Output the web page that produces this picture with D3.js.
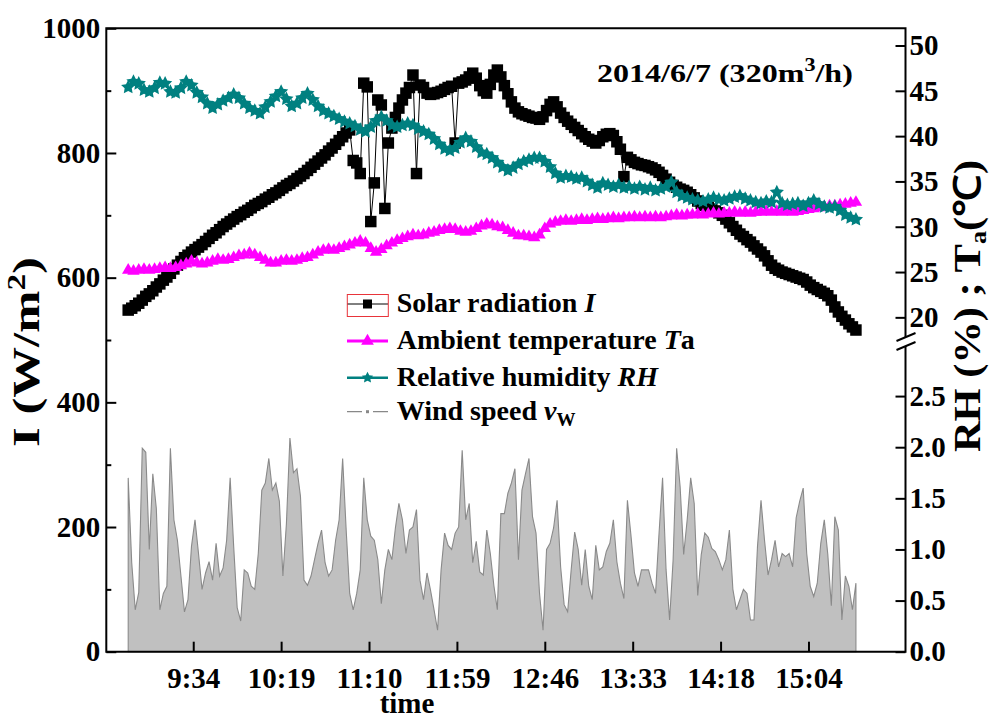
<!DOCTYPE html>
<html>
<head>
<meta charset="utf-8">
<script src="https://cdn.jsdelivr.net/npm/d3@7"></script>
<style>
  body { margin: 0; background: #fff; }
  svg text { font-family: "Liberation Serif", "Times New Roman", serif; font-weight: bold; fill: #000; }
</style>
</head>
<body>
<svg id="chart" width="993" height="720"></svg>
<script>
// Solar radiation I (W/m2), one sample every 2 records
const solarRadiation = [
  548,551,555,559,564,570,574,579,585,590,
  596,601,607,614,620,626,632,636,641,645,
  649,653,658,663,668,672,677,682,686,690,
  694,698,701,705,708,712,716,719,722,726,
  729,733,736,740,744,748,751,755,759,763,
  767,772,777,782,787,792,797,803,808,814,
  820,826,832,837,788,784,767,912,906,690,
  752,885,877,711,816,840,857,872,885,896,
  905,925,767,909,905,896,894,895,897,899,
  902,905,907,816,912,914,917,922,928,920,
  908,900,896,910,925,933,922,908,895,882,
  872,866,863,861,859,857,856,854,858,868,
  878,882,874,864,857,851,846,841,836,831,
  826,822,819,816,820,826,830,831,828,818,
  806,762,793,789,785,783,781,780,778,776,
  773,769,764,758,753,748,745,742,740,737,
  733,728,723,719,716,713,710,707,704,700,
  694,688,682,676,670,666,661,657,651,646,
  641,635,627,620,615,612,609,607,605,603,
  601,599,597,593,588,584,581,578,575,571,
  564,553,545,538,532,526,521,516
];
// Ambient temperature Ta (°C), one sample every 3 records
const ambientTemp = [
  25.2,25.1,25.2,25.3,25.2,25.3,25.4,25.5,25.4,25.5,
  25.7,25.9,26.2,26.0,25.9,26.0,26.2,26.4,26.3,26.4,
  26.6,26.8,26.9,27.1,26.9,26.6,26.3,26.0,26.0,26.2,
  26.3,26.2,26.3,26.5,26.6,26.9,27.2,27.4,27.5,27.4,
  27.6,27.8,28.0,28.2,28.4,28.2,27.6,27.2,27.5,27.9,
  28.2,28.5,28.7,28.9,29.1,29.0,29.1,29.3,29.4,29.6,
  29.7,29.8,29.7,29.5,29.4,29.5,29.8,30.1,30.3,30.2,
  30.0,29.9,29.6,29.3,29.0,29.0,28.9,28.8,29.1,29.8,
  30.3,30.5,30.6,30.7,30.6,30.7,30.8,30.7,30.8,30.9,
  30.8,30.9,31.0,30.9,31.0,31.0,31.1,31.0,31.1,31.0,
  31.1,31.0,31.1,31.2,31.3,31.2,31.3,31.3,31.4,31.3,
  31.4,31.5,31.4,31.5,31.5,31.6,31.5,31.6,31.5,31.6,
  31.6,31.7,31.6,31.7,31.6,31.7,31.6,31.7,31.8,31.9,
  32.0,32.1,32.2,32.3,32.3,32.4,32.5,32.6,32.7
];
// Relative humidity RH (%), one sample every 3 records
const relHumidity = [
  45.4,46.0,45.8,45.1,44.9,45.3,45.9,45.8,44.9,44.8,
  45.3,46.0,45.6,44.8,44.3,43.6,43.1,43.5,43.9,44.2,
  44.6,44.2,43.6,43.1,42.8,42.5,43.2,43.8,44.4,44.9,
  44.1,43.3,43.6,44.2,44.7,44.0,43.3,42.8,42.5,42.2,
  41.9,41.6,41.4,41.1,40.7,40.5,41.0,41.7,42.1,41.7,
  41.2,41.0,41.2,41.4,41.2,40.8,40.5,40.2,39.7,39.1,
  38.6,38.4,38.7,39.3,39.8,39.4,38.8,38.2,38.0,37.6,
  37.1,36.6,36.2,36.5,36.9,37.2,37.4,37.6,37.6,37.2,
  36.6,35.9,35.4,35.6,35.5,35.3,35.4,35.0,34.6,34.3,
  34.8,34.6,34.4,34.6,34.3,34.4,34.2,34.4,34.1,34.3,
  34.0,34.2,34.4,34.9,33.8,33.4,33.2,33.0,32.9,32.8,
  33.0,33.2,33.0,32.9,33.1,33.3,33.4,33.1,32.9,32.7,
  32.6,32.8,32.7,33.8,32.6,32.4,32.5,32.6,32.3,32.6,
  32.9,32.5,32.2,32.1,32.2,31.8,31.3,31.0,30.8
];
// Wind speed vw (m/s), one sample every 2 records
const windSpeed = [
  1.70,0.87,0.41,0.58,1.99,1.95,1.00,1.74,1.40,0.41,
  0.57,0.64,1.99,1.29,1.09,0.74,0.39,0.51,1.03,1.29,
  0.96,0.61,0.77,0.88,0.70,1.06,0.74,0.82,1.09,1.70,
  1.03,0.43,0.30,0.80,0.77,0.64,0.61,0.96,1.58,1.65,
  1.89,1.58,1.65,1.47,0.74,1.25,2.09,1.75,1.79,1.52,
  0.70,0.65,0.74,0.90,1.06,1.19,0.87,0.74,0.80,1.09,
  1.29,1.89,1.19,0.57,0.41,0.57,0.80,1.70,1.29,1.13,
  1.09,0.90,0.47,0.80,1.00,0.90,1.21,1.45,1.29,0.96,
  1.19,1.22,1.39,0.70,0.51,0.77,0.60,0.41,0.21,0.80,
  1.16,1.04,1.00,1.16,1.22,1.97,1.29,1.45,0.87,1.08,
  0.78,0.75,1.19,0.96,0.65,0.41,1.35,1.35,1.55,1.65,
  1.79,0.90,1.58,1.74,1.89,1.32,1.16,0.57,0.21,1.00,
  1.06,1.21,1.48,0.83,0.46,0.39,0.80,1.17,1.00,0.65,
  1.00,0.64,0.51,1.04,0.80,0.83,0.98,1.06,1.29,0.88,
  0.67,0.52,1.48,1.14,0.77,0.64,0.80,0.80,0.80,0.67,
  0.57,1.16,1.70,0.80,0.31,0.90,1.99,1.61,0.95,1.29,
  1.70,1.45,0.55,0.95,1.16,1.12,1.01,0.98,0.90,0.80,
  0.90,1.19,0.61,0.41,0.51,0.61,0.57,0.31,0.31,1.03,
  1.48,1.09,0.75,0.90,1.09,0.83,0.96,0.93,0.96,0.83,
  1.31,1.47,1.60,0.96,0.64,0.54,0.67,1.06,1.29,0.95,
  0.45,1.32,1.19,0.31,0.74,0.64,0.41,0.67
];
const solarStep = 2, tempStep = 3, humidStep = 3, windStep = 2;

// Time axis: record numbers and their clock labels
const timeTickRecords = [37, 87, 137, 187, 237, 287, 337, 387];
const timeTickLabels = ["9:34", "10:19", "11:10", "11:59", "12:46", "13:33", "14:18", "15:04"];
const leftTicks = [0, 200, 400, 600, 800, 1000];
const leftMinorTicks = [100, 300, 500, 700, 900];
const upperRightTicks = [20, 25, 30, 35, 40, 45, 50];
const lowerRightTicks = [0, 0.5, 1.0, 1.5, 2.0, 2.5];

const svg = d3.select("#chart");
const L = 106.3, R = 905.5, T = 28.3, B = 651.7;
const breakUpper = 337, breakLower = 346;

const x = d3.scaleLinear().domain([-12.46, 442.2]).range([L, R]);
const yI = d3.scaleLinear().domain([0, 1000]).range([B, T]);
const yUp = d3.scaleLinear().domain([17.5, 51.9]).range([340, T]);
const yW = d3.scaleLinear().domain([0, 2.98]).range([B, 347]);

// Five-pointed star with a fairly fat body
const fatStar = {
  draw(ctx, size) {
    const ro = Math.sqrt(size), ri = ro * 0.5;
    for (let k = 0; k < 10; k++) {
      const r = k % 2 ? ri : ro;
      const a = -Math.PI / 2 + k * Math.PI / 5;
      k ? ctx.lineTo(r * Math.cos(a), r * Math.sin(a)) : ctx.moveTo(r * Math.cos(a), r * Math.sin(a));
    }
    ctx.closePath();
  }
};

const plot = svg.append("g");

// Wind speed: grey filled profile
plot.append("path")
  .datum(windSpeed)
  .attr("d", d3.area().x((d, i) => x(i * windStep)).y0(yW(0)).y1(d => yW(d)))
  .attr("fill", "#c0c0c0")
  .attr("stroke", "#8a8a8a")
  .attr("stroke-width", 1.1);

// Solar radiation: black line with square markers
plot.append("path")
  .datum(solarRadiation)
  .attr("d", d3.line().x((d, i) => x(i * solarStep)).y(d => yI(d)))
  .attr("fill", "none").attr("stroke", "#000").attr("stroke-width", 1);
plot.append("g").selectAll("path").data(solarRadiation).join("path")
  .attr("transform", (d, i) => `translate(${x(i * solarStep)},${yI(d)})`)
  .attr("d", d3.symbol(d3.symbolSquare, 132))
  .attr("fill", "#000");

// Ambient temperature: magenta line with triangles
plot.append("path")
  .datum(ambientTemp)
  .attr("d", d3.line().x((d, i) => x(i * tempStep)).y(d => yUp(d)))
  .attr("fill", "none").attr("stroke", "#ff00ff").attr("stroke-width", 3);
plot.append("g").selectAll("path").data(ambientTemp).join("path")
  .attr("transform", (d, i) => `translate(${x(i * tempStep)},${yUp(d)})`)
  .attr("d", d3.symbol(d3.symbolTriangle, 66))
  .attr("fill", "#ff00ff");

// Relative humidity: teal line with stars
plot.append("path")
  .datum(relHumidity)
  .attr("d", d3.line().x((d, i) => x(i * humidStep)).y(d => yUp(d)))
  .attr("fill", "none").attr("stroke", "#008080").attr("stroke-width", 2.5);
plot.append("g").selectAll("path").data(relHumidity).join("path")
  .attr("transform", (d, i) => `translate(${x(i * humidStep)},${yUp(d)})`)
  .attr("d", d3.symbol(fatStar, 56))
  .attr("fill", "#008080");

// Axes
const tickFont = 29;
function styleAxis(g) {
  g.select(".domain").remove();
  g.selectAll(".tick line").attr("stroke", "#000").attr("stroke-width", 2);
  g.selectAll(".tick text").style("font-size", tickFont + "px").attr("fill", "#000");
}
svg.append("g").attr("transform", `translate(${L},0)`)
  .call(d3.axisLeft(yI).tickValues(leftTicks).tickSize(-10).tickPadding(6).tickFormat(d3.format("d")))
  .call(styleAxis);
svg.append("g").attr("transform", `translate(${L},0)`)
  .call(d3.axisLeft(yI).tickValues(leftMinorTicks).tickSize(-5).tickFormat(""))
  .call(styleAxis);
svg.append("g").attr("transform", `translate(0,${B})`)
  .call(d3.axisBottom(x).tickValues(timeTickRecords).tickSize(-10).tickPadding(16)
    .tickFormat((d, i) => timeTickLabels[i]))
  .call(styleAxis);
svg.append("g").attr("transform", `translate(${R},0)`)
  .call(d3.axisRight(yUp).tickValues(upperRightTicks).tickSize(-10).tickPadding(4).tickFormat(d3.format("d")))
  .call(styleAxis);
svg.append("g").attr("transform", `translate(${R},0)`)
  .call(d3.axisRight(yW).tickValues(lowerRightTicks).tickSize(-10).tickPadding(4).tickFormat(d3.format(".1f")))
  .call(styleAxis);

// Frame with a break on the right axis
const frame = svg.append("g").attr("stroke", "#000").attr("stroke-width", 2).attr("fill", "none");
frame.append("path").attr("d", `M${R},${breakUpper}V${T}H${L}V${B}H${R}V${breakLower}`);
frame.append("line").attr("x1", R - 9).attr("y1", breakUpper + 4).attr("x2", R + 10).attr("y2", breakUpper - 4);
frame.append("line").attr("x1", R - 9).attr("y1", breakLower + 4).attr("x2", R + 10).attr("y2", breakLower - 4);

// Stretch a text along its baseline to a given run length
function fitRun(sel, cx, cy, angle, run) {
  const w = sel.node().getBBox().width;
  const s = run / w;
  sel.attr("transform", `translate(${cx},${cy}) rotate(${angle}) scale(${s},1)`);
}

// Axis titles
svg.append("text").attr("x", 407).attr("y", 713).attr("text-anchor", "middle")
  .style("font-size", "29px").text("time");

const leftTitle = svg.append("text").attr("text-anchor", "middle").style("font-size", "38px");
leftTitle.append("tspan").text("I (W/m");
leftTitle.append("tspan").attr("dy", -14).style("font-size", "25px").text("2");
leftTitle.append("tspan").attr("dy", 14).text(")");
fitRun(leftTitle, 39, 352, -90, 190);

const rightTitle = svg.append("text").attr("text-anchor", "middle").style("font-size", "37px");
rightTitle.append("tspan").text("RH (%) ; T");
rightTitle.append("tspan").attr("dy", 6).style("font-size", "23px").text("a");
rightTitle.append("tspan").attr("dy", -6).text("(\u2103)");
fitRun(rightTitle, 980, 306, -90, 292);

// Date / flow annotation
const note = svg.append("text").style("font-size", "26px");
note.append("tspan").text("2014/6/7 (320m");
note.append("tspan").attr("dy", -11).style("font-size", "18px").text("3");
note.append("tspan").attr("dy", 11).text("/h)");
fitRun(note, 597, 82, 0, 256);

// Legend
const legendRows = [
  { label: ["Solar radiation ", "I"], color: "#000", sym: d3.symbolSquare, size: 81, width: 1 },
  { label: ["Ambient temperature ", "T", "a"], color: "#ff00ff", sym: d3.symbolTriangle, size: 70, width: 3 },
  { label: ["Relative humidity ", "RH"], color: "#008080", sym: fatStar, size: 36, width: 2.5 },
  { label: ["Wind speed ", "v", "W"], color: "#888", sym: d3.symbolSquare, size: 9, width: 1.3 }
];
const rowY = [304, 341, 377.7, 411.7];
const lg = svg.append("g");
legendRows.forEach((r, i) => {
  const g = lg.append("g").attr("transform", `translate(0,${rowY[i]})`);
  if (i === 3) {
    g.append("line").attr("x1", 347).attr("x2", 388).attr("stroke", r.color)
      .attr("stroke-width", r.width).attr("stroke-dasharray", "15,11");
  } else {
    g.append("line").attr("x1", 347).attr("x2", 388).attr("stroke", r.color).attr("stroke-width", r.width);
  }
  g.append("path").attr("transform", "translate(367.5,0)").attr("d", d3.symbol(r.sym, r.size)).attr("fill", r.color);
  if (i === 0) {
    g.append("rect").attr("x", 347.3).attr("y", -9.5).attr("width", 41).attr("height", 22)
      .attr("fill", "none").attr("stroke", "#e8343a").attr("stroke-width", 1);
  }
  const t = g.append("text").attr("x", 396.7).attr("y", 8).style("font-size", "28px");
  t.append("tspan").text(r.label[0]);
  t.append("tspan").style("font-style", "italic").text(r.label[1]);
  if (r.label[2] && i === 1) t.append("tspan").text(r.label[2]);
  if (r.label[2] && i === 3) t.append("tspan").attr("dy", 6).style("font-size", "19px").text(r.label[2]);
});
</script>
</body>
</html>
